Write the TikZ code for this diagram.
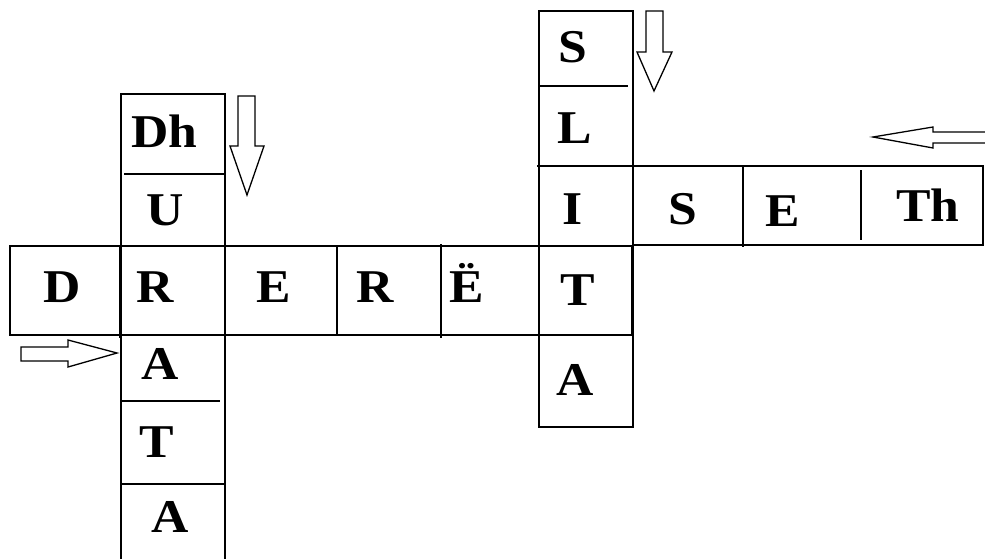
\documentclass[tikz,border=0pt]{standalone}
\usepackage{fontspec}
\usepackage{graphicx}
\setmainfont{Liberation Serif}
\newcommand\wideletter[1]{\scalebox{1.1}[1]{#1}}
\begin{document}
\begin{tikzpicture}[x=1pt,y=-1pt,
  grid/.style={line width=1.7pt, black},
  blockarrow/.style={line width=1.3pt, black, fill=white, line join=miter},
  letter/.style={anchor=base west, inner sep=0pt, font=\fontsize{47}{47}\selectfont\bfseries}]
\useasboundingbox (0,0) rectangle (985,559);
% column 1 (Dh U R A T A)
\draw[grid] (121,559) -- (121,94) -- (225,94) -- (225,559);
\draw[grid] (124,174) -- (224,174);
\draw[grid] (121,401) -- (220,401);
\draw[grid] (121,484) -- (225,484);
% row 1 (D R E R Ë T)
\draw[grid] (10,246) rectangle (632,335);
\draw[grid] (120,246) -- (120,338);
\draw[grid] (337,246) -- (337,335);
\draw[grid] (441,244) -- (441,338);
% column 2 (S L I T A)
\draw[grid] (539,427) -- (539,11) -- (633,11) -- (633,427) -- cycle;
\draw[grid] (540,86) -- (628,86);
\draw[line width=2.4pt] (632,246) -- (632,335);
% row 2 (I S E Th)
\draw[grid] (537,166) -- (983,166) -- (983,245) -- (633,245);
\draw[grid] (743,166) -- (743,247);
\draw[grid] (861,170) -- (861,240);
% arrows
\draw[blockarrow] (238,96) -- (255,96) -- (255,146) -- (264,146) -- (247,195) -- (230,146) -- (238,146) -- cycle;
\draw[blockarrow] (646,11) -- (663,11) -- (663,52) -- (672,52) -- (654,91) -- (637,52) -- (646,52) -- cycle;
\draw[blockarrow] (986,132) -- (933,132) -- (933,127) -- (873,137) -- (933,148) -- (933,143) -- (986,143);
\draw[blockarrow] (21,347) -- (68,347) -- (68,340) -- (117,353) -- (68,367) -- (68,361) -- (21,361) -- cycle;
% letters
\node[letter] (c1a) at (131,147) {\wideletter{Dh}};
\node[letter] (c1b) at (146,225) {\wideletter{U}};
\node[letter] (c1c) at (136,302) {\wideletter{R}};
\node[letter] (c1d) at (141,379) {\wideletter{A}};
\node[letter] (c1e) at (139,457) {\wideletter{T}};
\node[letter] (c1f) at (151,532) {\wideletter{A}};
\node[letter] (r1a) at (43,302) {\wideletter{D}};
\node[letter] (r1c) at (256,302) {\wideletter{E}};
\node[letter] (r1d) at (356,302) {\wideletter{R}};
\node[letter] (r1e) at (449,302) {\wideletter{Ë}};
\node[letter] (r1f) at (560,305) {\wideletter{T}};
\node[letter] (c2a) at (558,63) {\wideletter{S}};
\node[letter] (c2b) at (557,144) {\wideletter{L}};
\node[letter] (c2c) at (562,224) {\wideletter{I}};
\node[letter] (c2e) at (556,395) {\wideletter{A}};
\node[letter] (r2b) at (668,224) {\wideletter{S}};
\node[letter] (r2c) at (765,226) {\wideletter{E}};
\node[letter] (r2d) at (896,221) {\wideletter{Th}};
\end{tikzpicture}
\end{document}
